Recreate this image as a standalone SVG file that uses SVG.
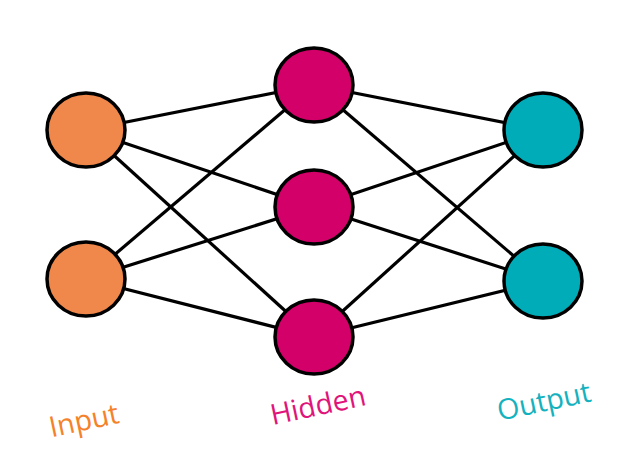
<svg xmlns="http://www.w3.org/2000/svg" width="627" height="470" viewBox="0 0 627 470">
  <style>
    .edge { stroke: #000; stroke-width: 3.2; fill: none; }
    .node { stroke: #000; stroke-width: 3.5; }
    .in { fill: #EF884A; }
    .hid { fill: #D20068; }
    .out { fill: #00ACB8; }
    .lbl { font-family: "Open Sans", "Noto Sans", sans-serif; font-size: 28.5px; text-anchor: middle; }
  </style>
  <rect width="627" height="470" fill="#fff"/>
  <g id="connectors">
    <line class="edge" x1="86" y1="130" x2="314" y2="85"/>
    <line class="edge" x1="86" y1="130" x2="314" y2="207"/>
    <line class="edge" x1="86" y1="130" x2="314" y2="337"/>
    <line class="edge" x1="86" y1="279" x2="314" y2="85"/>
    <line class="edge" x1="86" y1="279" x2="314" y2="207"/>
    <line class="edge" x1="86" y1="279" x2="314" y2="337"/>
    <line class="edge" x1="314" y1="85" x2="543" y2="130"/>
    <line class="edge" x1="314" y1="85" x2="543" y2="281"/>
    <line class="edge" x1="314" y1="207" x2="543" y2="130"/>
    <line class="edge" x1="314" y1="207" x2="543" y2="281"/>
    <line class="edge" x1="314" y1="337" x2="543" y2="130"/>
    <line class="edge" x1="314" y1="337" x2="543" y2="281"/>
  </g>
  <g id="input1"><ellipse class="node in" cx="86" cy="130" rx="39" ry="37"/></g>
  <g id="input2"><ellipse class="node in" cx="86" cy="279" rx="39" ry="37"/></g>
  <g id="hidden1"><ellipse class="node hid" cx="314" cy="85" rx="39" ry="37"/></g>
  <g id="hidden2"><ellipse class="node hid" cx="314" cy="207" rx="39" ry="37"/></g>
  <g id="hidden3"><ellipse class="node hid" cx="314" cy="337" rx="39" ry="37"/></g>
  <g id="output1"><ellipse class="node out" cx="543" cy="130" rx="39" ry="37"/></g>
  <g id="output2"><ellipse class="node out" cx="543" cy="281" rx="39" ry="37"/></g>
  <g id="labels">
    <text class="lbl" fill="#F5822A" transform="translate(86 430) rotate(-12)">Input</text>
    <text class="lbl" fill="#E0147A" transform="translate(320 415) rotate(-12)">Hidden</text>
    <text class="lbl" fill="#14B2BE" transform="translate(546 411) rotate(-12)">Output</text>
  </g>
</svg>
